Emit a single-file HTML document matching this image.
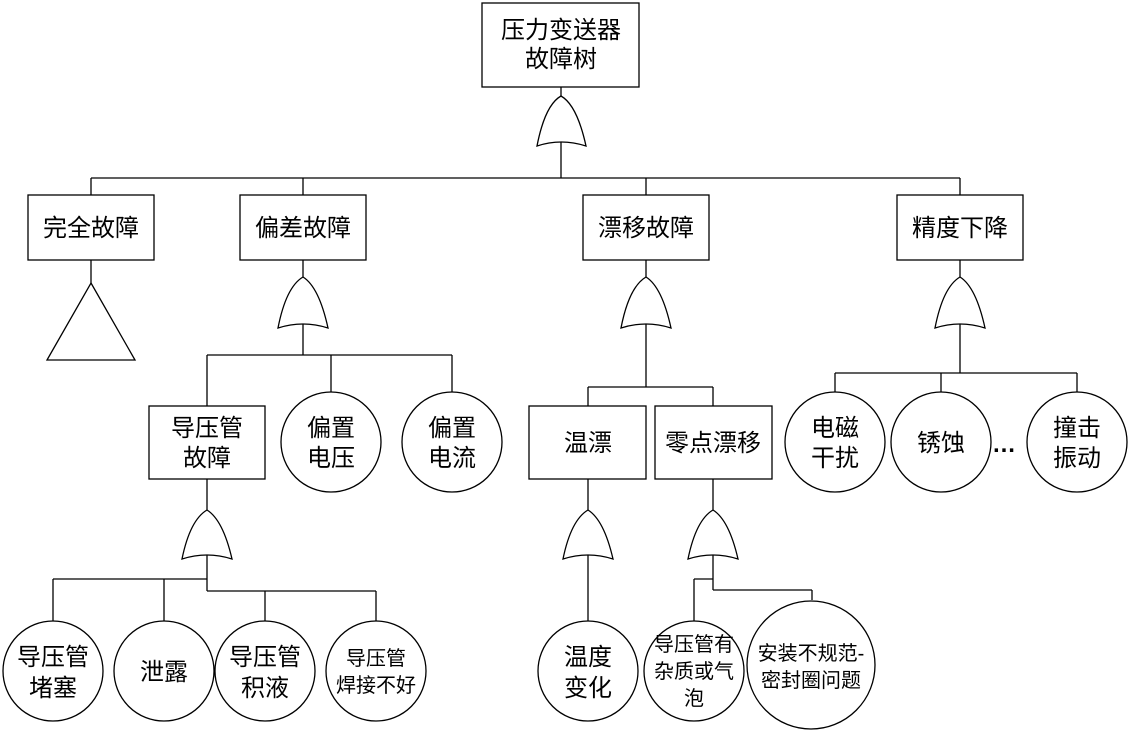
<!DOCTYPE html>
<html><head><meta charset="utf-8"><style>
body{margin:0;background:#fff}
svg{display:block}
text{font-family:"Liberation Sans","Noto Sans CJK SC",sans-serif;fill:#000;text-anchor:middle}
</style></head><body>
<svg width="1130" height="732" viewBox="0 0 1130 732" xmlns="http://www.w3.org/2000/svg">
<g fill="none" stroke="#000" stroke-width="1.3">
<rect x="482" y="3" width="157" height="84"/>
<line x1="561" y1="87" x2="561" y2="96"/>
<path d="M537,146 Q545,105 561,96 Q577,105 586,146 Q561,138 537,146 Z"/>
<line x1="561" y1="142" x2="561" y2="178"/>
<line x1="91" y1="178" x2="960" y2="178"/>
<line x1="91" y1="178" x2="91" y2="195"/>
<line x1="303" y1="178" x2="303" y2="195"/>
<line x1="646" y1="178" x2="646" y2="195"/>
<line x1="960" y1="178" x2="960" y2="195"/>
<rect x="28" y="195" width="126" height="65"/>
<rect x="240" y="195" width="126" height="65"/>
<rect x="583" y="195" width="126" height="65"/>
<rect x="897" y="195" width="126" height="65"/>
<line x1="91" y1="260" x2="91" y2="283"/>
<path d="M91,283 L135,360 L47,360 Z"/>
<line x1="303" y1="260" x2="303" y2="277"/>
<path d="M278,328 Q286,287 303,277 Q319,287 328,328 Q303,320 278,328 Z"/>
<line x1="646" y1="260" x2="646" y2="277"/>
<path d="M621,328 Q629,287 646,277 Q662,287 671,328 Q646,320 621,328 Z"/>
<line x1="960" y1="260" x2="960" y2="277"/>
<path d="M935,328 Q943,287 960,277 Q976,287 985,328 Q960,320 935,328 Z"/>
<line x1="303" y1="324" x2="303" y2="355"/>
<line x1="207" y1="355" x2="452" y2="355"/>
<line x1="207" y1="355" x2="207" y2="406"/>
<line x1="331" y1="355" x2="331" y2="392"/>
<line x1="452" y1="355" x2="452" y2="392"/>
<rect x="149" y="406" width="116" height="73"/>
<circle cx="331" cy="442" r="50"/>
<circle cx="452" cy="442" r="50"/>
<line x1="207" y1="479" x2="207" y2="510"/>
<path d="M182,559 Q190,520 207,510 Q223,520 232,559 Q207,551 182,559 Z"/>
<line x1="207" y1="555" x2="207" y2="591"/>
<line x1="53" y1="579" x2="207" y2="579"/>
<line x1="207" y1="591" x2="376" y2="591"/>
<line x1="53" y1="579" x2="53" y2="621"/>
<line x1="164" y1="579" x2="164" y2="621"/>
<line x1="265" y1="591" x2="265" y2="621"/>
<line x1="376" y1="591" x2="376" y2="621"/>
<circle cx="53" cy="671" r="50"/>
<circle cx="164" cy="671" r="50"/>
<circle cx="265" cy="671" r="50"/>
<circle cx="376" cy="671" r="50"/>
<line x1="646" y1="324" x2="646" y2="387"/>
<line x1="588" y1="387" x2="713" y2="387"/>
<line x1="588" y1="387" x2="588" y2="406"/>
<line x1="713" y1="387" x2="713" y2="406"/>
<rect x="529" y="406" width="117" height="73"/>
<rect x="655" y="406" width="117" height="73"/>
<line x1="588" y1="479" x2="588" y2="510"/>
<path d="M563,559 Q571,520 588,510 Q604,520 613,559 Q588,551 563,559 Z"/>
<line x1="588" y1="555" x2="588" y2="621"/>
<circle cx="588" cy="671" r="50"/>
<line x1="713" y1="479" x2="713" y2="510"/>
<path d="M688,559 Q696,520 713,510 Q729,520 738,559 Q713,551 688,559 Z"/>
<line x1="713" y1="555" x2="713" y2="590"/>
<line x1="694" y1="579" x2="713" y2="579"/>
<line x1="713" y1="590" x2="812" y2="590"/>
<line x1="694" y1="579" x2="694" y2="621"/>
<line x1="812" y1="590" x2="812" y2="600"/>
<circle cx="694" cy="671" r="50"/>
<ellipse cx="811" cy="665" rx="64" ry="64"/>
<line x1="960" y1="324" x2="960" y2="373"/>
<line x1="835" y1="373" x2="1077" y2="373"/>
<line x1="835" y1="373" x2="835" y2="392"/>
<line x1="941" y1="373" x2="941" y2="392"/>
<line x1="1077" y1="373" x2="1077" y2="392"/>
<circle cx="835" cy="442" r="50"/>
<circle cx="941" cy="442" r="50"/>
<circle cx="1077" cy="442" r="50"/>
</g>
<g font-size="24">
<text x="561" y="38">压力变送器</text>
<text x="561" y="67">故障树</text>
<text x="91" y="236">完全故障</text>
<text x="303" y="236">偏差故障</text>
<text x="646" y="236">漂移故障</text>
<text x="960" y="236">精度下降</text>
<text x="207" y="436">导压管</text>
<text x="207" y="466">故障</text>
<text x="331" y="436">偏置</text>
<text x="331" y="466">电压</text>
<text x="452" y="436">偏置</text>
<text x="452" y="466">电流</text>
<text x="588" y="451">温漂</text>
<text x="713" y="451">零点漂移</text>
<text x="835" y="436">电磁</text>
<text x="835" y="466">干扰</text>
<text x="941" y="451">锈蚀</text>
<text x="1004" y="452" font-weight="bold">…</text>
<text x="1077" y="436">撞击</text>
<text x="1077" y="466">振动</text>
<text x="53" y="665">导压管</text>
<text x="53" y="696">堵塞</text>
<text x="164" y="680">泄露</text>
<text x="265" y="665">导压管</text>
<text x="265" y="696">积液</text>
<text x="588" y="665">温度</text>
<text x="588" y="696">变化</text>
</g>
<g font-size="20">
<text x="376" y="665">导压管</text>
<text x="376" y="692">焊接不好</text>
<text x="694" y="651">导压管有</text>
<text x="694" y="678">杂质或气</text>
<text x="694" y="705">泡</text>
<text x="811" y="660">安装不规范-</text>
<text x="811" y="687">密封圈问题</text>
</g>
</svg>
</body></html>
